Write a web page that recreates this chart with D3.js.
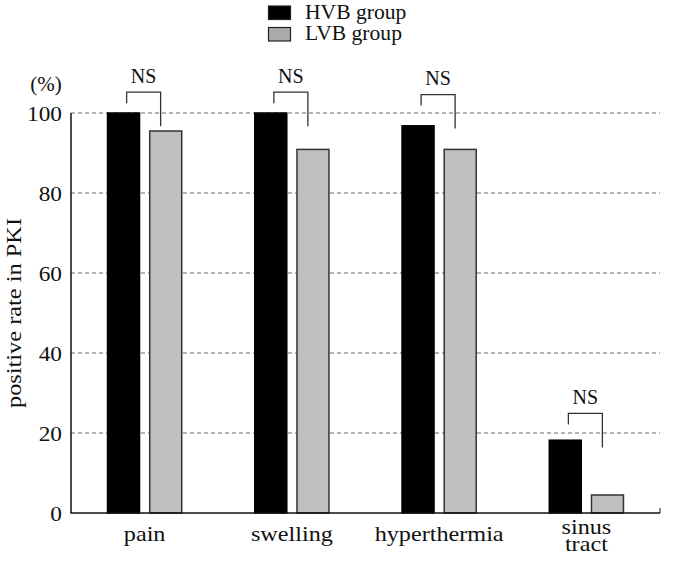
<!DOCTYPE html>
<html><head><meta charset="utf-8">
<script src="https://cdn.jsdelivr.net/npm/d3@7"></script>
<style>body{margin:0;background:#fff}svg{display:block}</style>
</head><body>
<script>
const categories = ["pain", "swelling", "hyperthermia", "sinus\ntract"];
const series = ["HVB group", "LVB group"];
const hvbValues = [100, 100, 96.8, 18.2];
const lvbValues = [95.5, 90.9, 90.9, 4.5];
const bracketLevels = [105.2, 105.2, 104.6, 24.9];
const bracketLabels = ["NS", "NS", "NS", "NS"];
const yTicks = [0, 20, 40, 60, 80, 100];
const colors = ["#000000", "#bfbfbf"];

const FONT = "'Liberation Serif'";
const W = 685, H = 561;
const svg = d3.select("body").append("svg").attr("width", W).attr("height", H)
  .style("font-family", FONT);
const x0 = d3.scaleBand().domain(categories).range([71, 660]).paddingInner(0.486).paddingOuter(0.243);
const x1 = d3.scaleBand().domain(series).range([0, x0.bandwidth()]).paddingInner(0.206);
const y = d3.scaleLinear().domain([0, 100]).range([513, 113]);

// gridlines
svg.append("g").selectAll("line").data(yTicks.filter(d => d > 0)).join("line")
  .attr("x1", 71).attr("x2", 660).attr("y1", d => y(d)).attr("y2", d => y(d))
  .attr("stroke", "#666").attr("stroke-width", 1).attr("stroke-dasharray", "4,3");

// y axis labels
const yAxis = svg.append("g").attr("transform", "translate(62,0)")
  .call(d3.axisLeft(y).tickValues(yTicks).tickSize(0).tickPadding(0));
yAxis.attr("font-family", null).attr("font-size", null);
yAxis.select(".domain").remove();
yAxis.selectAll(".tick text").attr("x", null)
  .style("font-family", FONT).attr("font-size", 21).attr("fill", "#111").attr("dy", "0.34em")
  .attr("transform", "scale(1.11,1)");

// bars
const rows = categories.map((c, i) => ({c, vals: [hvbValues[i], lvbValues[i]]}));
const g = svg.append("g").selectAll("g").data(rows).join("g")
  .attr("transform", d => `translate(${x0(d.c)},0)`);
g.selectAll("rect").data(d => d.vals.map((v, j) => ({s: series[j], v, j}))).join("rect")
  .attr("x", d => x1(d.s) + 0.75).attr("width", x1.bandwidth() - 1.5)
  .attr("y", d => y(d.v)).attr("height", d => y(0) - y(d.v))
  .attr("fill", d => colors[d.j]).attr("stroke", d => d.j ? "#333" : "#000").attr("stroke-width", 1.5);

// axes lines
svg.append("line").attr("x1", 71).attr("x2", 71).attr("y1", y(100)).attr("y2", y(0)).attr("stroke", "#111").attr("stroke-width", 1.5);
svg.append("line").attr("x1", 70.25).attr("x2", 660).attr("y1", y(0)).attr("y2", y(0)).attr("stroke", "#111").attr("stroke-width", 1.5);
svg.append("line").attr("x1", 660).attr("x2", 660).attr("y1", y(0)).attr("y2", y(0) - 5).attr("stroke", "#111").attr("stroke-width", 1);

// NS brackets
categories.forEach((c, i) => {
  const cx = x0(c) + x0.bandwidth() / 2 - 1;
  const top = y(bracketLevels[i]);
  const xl = cx - 17, xr = cx + 17;
  svg.append("path").attr("d", `M${xl},${top + 11}V${top}H${xr}V${top + 34}`)
    .attr("fill", "none").attr("stroke", "#333").attr("stroke-width", 1.3);
  svg.append("text").attr("x", cx).attr("y", top - 9.5).attr("text-anchor", "middle")
    .style("font-family", FONT).attr("font-size", 20).attr("fill", "#111").text(bracketLabels[i]);
});

// x labels
categories.forEach(c => {
  const lines = c.split("\n");
  const cx = x0(c) + x0.bandwidth() / 2;
  const t = svg.append("text").attr("text-anchor", "middle").style("font-family", FONT)
    .attr("font-size", 22).attr("fill", "#111")
    .attr("transform", `translate(${cx},0) scale(1.1,1)`);
  if (lines.length === 1) {
    t.attr("x", 0).attr("y", 541.5).text(c);
  } else {
    lines.forEach((l, k) => t.append("tspan").attr("x", 0).attr("y", 534 + k * 17).text(l));
  }
});

// y title and unit
svg.append("text").attr("transform", `translate(20.5,${y(50)}) rotate(-90) scale(1.16,1)`).attr("text-anchor", "middle")
  .style("font-family", FONT).attr("font-size", 21).attr("fill", "#111").text("positive rate in PKI");
svg.append("text").attr("x", 46).attr("y", 91).attr("text-anchor", "middle")
  .style("font-family", FONT).attr("font-size", 21).attr("fill", "#111").text("(%)");

// legend
const leg = svg.append("g").selectAll("g").data(series).join("g")
  .attr("transform", (d, i) => `translate(268.5,${6 + i * 21.5})`);
leg.append("rect").attr("width", 22).attr("height", 13.5)
  .attr("fill", (d, i) => i ? "#aaaaaa" : "#000").attr("stroke", "#222").attr("stroke-width", 1.2);
leg.append("text").attr("transform", "translate(36.5,12.5) scale(1.08,1)").style("font-family", FONT).attr("font-size", 20)
  .attr("fill", "#111").text(d => d);
</script>
</body></html>
